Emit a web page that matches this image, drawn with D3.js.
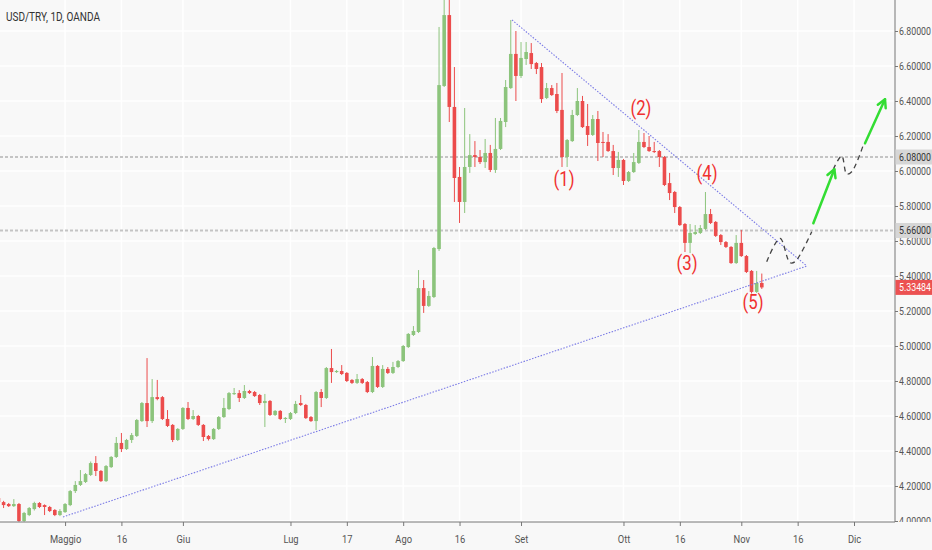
<!DOCTYPE html>
<html>
<head>
<meta charset="utf-8">
<script src="https://cdn.jsdelivr.net/npm/d3@7"></script>
<style>
  body { margin: 0; background: #f8f8f8; }
  svg { display: block; }
  text { font-family: Roboto, "Noto Sans", sans-serif; }
</style>
</head>
<body>
<div id="chart"></div>
<script>
// Daily candles USD/TRY, bar 0 = 1 May 2018 (weekdays only)
const firstBar = -13;
const opens = [
  4.131, 4.108, 4.097, 4.085, 4.097, 4.000, 4.034, 4.068, 4.103, 4.091, 4.080, 4.063, 4.034,
  4.051, 4.091, 4.171, 4.206, 4.223, 4.263, 4.331, 4.286, 4.228, 4.308, 4.366, 4.446, 4.411,
  4.463, 4.486, 4.571, 4.674, 4.571, 4.708, 4.708, 4.583, 4.549, 4.463, 4.526, 4.646, 4.583,
  4.600, 4.549, 4.486, 4.468, 4.526, 4.594, 4.640, 4.725, 4.731, 4.703, 4.743, 4.737, 4.720,
  4.674, 4.686, 4.606, 4.629, 4.583, 4.583, 4.617, 4.674, 4.663, 4.594, 4.571, 4.737, 4.703,
  4.874, 4.851, 4.857, 4.846, 4.806, 4.789, 4.811, 4.794, 4.737, 4.886, 4.766, 4.869, 4.846,
  4.880, 4.914, 4.994, 5.063, 5.080, 5.331, 5.229, 5.280, 5.554, 6.486, 6.891, 6.366, 5.966,
  5.823, 6.023, 6.091, 6.080, 6.051, 6.103, 6.006, 6.126, 6.280, 6.474, 6.669, 6.543, 6.640,
  6.674, 6.617, 6.594, 6.417, 6.474, 6.440, 6.349, 6.080, 6.171, 6.320, 6.400, 6.257, 6.206,
  6.297, 6.166, 6.166, 6.114, 6.017, 6.063, 5.943, 5.994, 6.046, 6.166, 6.137, 6.114, 6.114,
  6.080, 5.931, 5.880, 5.794, 5.697, 5.589, 5.640, 5.646, 5.669, 5.754, 5.709, 5.634, 5.594,
  5.566, 5.474, 5.589, 5.514, 5.429, 5.309, 5.360
];
const highs = [
  4.140, 4.115, 4.103, 4.125, 4.103, 4.052, 4.080, 4.110, 4.108, 4.095, 4.086, 4.068, 4.068,
  4.103, 4.177, 4.228, 4.291, 4.274, 4.340, 4.371, 4.291, 4.320, 4.371, 4.480, 4.503, 4.469,
  4.503, 4.583, 4.680, 4.931, 4.811, 4.806, 4.714, 4.634, 4.554, 4.531, 4.651, 4.680, 4.634,
  4.606, 4.554, 4.491, 4.531, 4.600, 4.703, 4.737, 4.760, 4.748, 4.777, 4.749, 4.743, 4.726,
  4.726, 4.691, 4.634, 4.634, 4.594, 4.623, 4.686, 4.720, 4.669, 4.600, 4.743, 4.754, 4.880,
  4.983, 4.863, 4.891, 4.851, 4.811, 4.840, 4.817, 4.800, 4.937, 4.891, 4.891, 4.880, 4.909,
  4.920, 5.006, 5.074, 5.114, 5.434, 5.377, 5.314, 5.566, 6.823, 7.200, 6.990, 6.594, 6.023,
  6.360, 6.211, 6.171, 6.120, 6.183, 6.149, 6.303, 6.303, 6.520, 6.863, 6.800, 6.737, 6.737,
  6.731, 6.623, 6.617, 6.503, 6.491, 6.503, 6.560, 6.183, 6.349, 6.474, 6.429, 6.383, 6.320,
  6.343, 6.223, 6.211, 6.149, 6.109, 6.069, 6.000, 6.103, 6.234, 6.217, 6.200, 6.166, 6.120,
  6.086, 5.989, 5.886, 5.800, 5.703, 5.697, 5.691, 5.691, 5.880, 5.783, 5.714, 5.640, 5.600,
  5.571, 5.634, 5.663, 5.520, 5.434, 5.429, 5.414
];
const lows = [
  4.100, 4.074, 4.080, 4.080, 3.995, 3.995, 4.028, 4.060, 4.074, 4.034, 4.051, 4.028, 4.028,
  4.046, 4.085, 4.160, 4.200, 4.217, 4.257, 4.257, 4.223, 4.223, 4.303, 4.360, 4.394, 4.406,
  4.446, 4.480, 4.566, 4.537, 4.560, 4.690, 4.577, 4.537, 4.451, 4.457, 4.520, 4.577, 4.577,
  4.543, 4.457, 4.460, 4.463, 4.520, 4.589, 4.634, 4.720, 4.680, 4.697, 4.726, 4.709, 4.663,
  4.537, 4.600, 4.600, 4.577, 4.560, 4.577, 4.611, 4.657, 4.583, 4.566, 4.520, 4.651, 4.697,
  4.789, 4.846, 4.834, 4.794, 4.783, 4.783, 4.783, 4.731, 4.731, 4.760, 4.760, 4.840, 4.840,
  4.874, 4.909, 4.989, 5.057, 5.074, 5.189, 5.223, 5.274, 5.543, 6.480, 6.280, 5.823, 5.703,
  5.760, 5.989, 6.023, 6.040, 6.017, 5.994, 5.989, 6.120, 6.251, 6.469, 6.400, 6.531, 6.606,
  6.583, 6.554, 6.389, 6.411, 6.429, 6.331, 6.023, 6.023, 6.166, 6.314, 6.246, 6.143, 6.200,
  6.057, 6.080, 6.109, 5.977, 5.966, 5.920, 5.937, 5.989, 6.040, 6.131, 6.109, 6.103, 6.023,
  5.914, 5.834, 5.760, 5.686, 5.537, 5.531, 5.634, 5.640, 5.663, 5.697, 5.623, 5.577, 5.560,
  5.469, 5.469, 5.509, 5.417, 5.300, 5.303, 5.326
];
const closes = [
  4.108, 4.091, 4.085, 4.097, 4.000, 4.046, 4.074, 4.103, 4.080, 4.080, 4.057, 4.034, 4.057,
  4.097, 4.171, 4.206, 4.228, 4.268, 4.331, 4.286, 4.228, 4.314, 4.366, 4.446, 4.411, 4.463,
  4.491, 4.577, 4.674, 4.571, 4.708, 4.697, 4.583, 4.543, 4.463, 4.526, 4.646, 4.583, 4.600,
  4.549, 4.480, 4.468, 4.526, 4.594, 4.646, 4.731, 4.731, 4.703, 4.743, 4.731, 4.714, 4.674,
  4.686, 4.606, 4.629, 4.583, 4.589, 4.617, 4.669, 4.663, 4.588, 4.571, 4.737, 4.703, 4.874,
  4.851, 4.857, 4.840, 4.800, 4.789, 4.811, 4.789, 4.737, 4.886, 4.766, 4.869, 4.846, 4.880,
  4.914, 5.000, 5.069, 5.086, 5.331, 5.229, 5.286, 5.560, 6.491, 6.891, 6.366, 5.960, 5.823,
  6.023, 6.091, 6.080, 6.051, 6.103, 6.006, 6.126, 6.286, 6.480, 6.669, 6.543, 6.646, 6.680,
  6.611, 6.583, 6.411, 6.474, 6.434, 6.343, 6.080, 6.177, 6.320, 6.400, 6.251, 6.206, 6.297,
  6.160, 6.160, 6.114, 6.017, 6.063, 5.943, 5.994, 6.051, 6.166, 6.137, 6.114, 6.109, 6.080,
  5.920, 5.874, 5.794, 5.691, 5.589, 5.646, 5.651, 5.674, 5.754, 5.703, 5.629, 5.594, 5.566,
  5.474, 5.589, 5.514, 5.423, 5.309, 5.360, 5.33484
];

// Axis ticks
const timeTickBars = [0, 11, 23, 44, 55, 66, 77, 89, 109, 120, 132, 143, 154];
const timeTickLabels = ["Maggio", "16", "Giu", "Lug", "17", "Ago", "16", "Set", "Ott", "16", "Nov", "16", "Dic"];
const priceTicks = [4.0, 4.2, 4.4, 4.6, 4.8, 5.0, 5.2, 5.4, 5.6, 5.8, 6.0, 6.2, 6.4, 6.6, 6.8];

// Horizontal levels and last price
const levelPrices = [6.08, 5.66];
const lastPrice = 5.33484;

// Elliott wave labels
const waveLabels = ["(1)", "(2)", "(3)", "(4)", "(5)"];
const waveBars = [97.4, 112.4, 121.4, 125.3, 134.3];
const wavePrices = [5.954, 6.360, 5.474, 5.989, 5.251];

// Triangle trend lines [bar, price]
const lowerTrend = [[-0.4, 4.023], [144.8, 5.457]];
const upperTrend = [[87.24, 6.863], [144.8, 5.457]];

// Projected path (dashed) and arrows
const projection1 = [[136.96, 5.482], [139.56, 5.615], [141.51, 5.476], [142.49, 5.482], [145.74, 5.653]];
const projection2 = [[149.96, 6.010], [151.6, 6.086], [152.57, 5.983], [153.55, 5.996], [155.82, 6.149]];
const arrows = [
  [[146.06, 5.701], [150.16, 6.010]],
  [[156.15, 6.158], [160.05, 6.410]]
];

const [w, h] = [932, 550];
const axisX = 895;
const axisY = 522;
const labelScale = 0.8;

const green = "#8cc47c";
const red = "#ec4c4c";

const xScale = d3.scaleLinear()
  .domain([-12.7, 162])
  .range([0, axisX]);

const yScale = d3.scaleLinear()
  .domain([4.0, 6.8])
  .range([521, 31]);

const svg = d3.select("#chart")
  .append("svg")
  .attr("width", w)
  .attr("height", h);

svg.append("rect")
  .attr("width", w)
  .attr("height", h)
  .attr("fill", "#f8f8f8");

svg.append("defs")
  .append("clipPath")
  .attr("id", "plot-clip")
  .append("rect")
  .attr("width", axisX)
  .attr("height", axisY);

// Grid
const grid = svg.append("g").attr("clip-path", "url(#plot-clip)");
grid.selectAll(".hgrid")
  .data(priceTicks)
  .enter()
  .append("line")
  .attr("x1", 0)
  .attr("x2", axisX)
  .attr("y1", (d) => yScale(d))
  .attr("y2", (d) => yScale(d))
  .attr("stroke", "#ffffff")
  .attr("stroke-width", 1.5);
grid.selectAll(".vgrid")
  .data(timeTickBars)
  .enter()
  .append("line")
  .attr("x1", (d) => xScale(d))
  .attr("x2", (d) => xScale(d))
  .attr("y1", 0)
  .attr("y2", axisY)
  .attr("stroke", "#ffffff")
  .attr("stroke-width", 1.5);

const plot = svg.append("g").attr("clip-path", "url(#plot-clip)");

// Levels
plot.selectAll(".level")
  .data(levelPrices)
  .enter()
  .append("line")
  .attr("x1", 0)
  .attr("x2", axisX)
  .attr("y1", (d) => yScale(d))
  .attr("y2", (d) => yScale(d))
  .attr("stroke", "#c4c4c4")
  .attr("stroke-width", 2)
  .attr("stroke-dasharray", "3,2");

// Candles
const bars = d3.range(opens.length).map((k) => ({
  i: firstBar + k,
  o: opens[k],
  h: highs[k],
  l: lows[k],
  c: closes[k]
}));
const bodyW = 3.6;

const candle = plot.selectAll(".candle")
  .data(bars)
  .enter()
  .append("g")
  .attr("class", "candle");

candle.append("line")
  .attr("x1", (d) => xScale(d.i))
  .attr("x2", (d) => xScale(d.i))
  .attr("y1", (d) => yScale(d.h))
  .attr("y2", (d) => yScale(d.l))
  .attr("stroke", (d) => d.c >= d.o ? green : red)
  .attr("stroke-width", 1);

candle.append("rect")
  .attr("x", (d) => xScale(d.i) - bodyW / 2)
  .attr("y", (d) => yScale(Math.max(d.o, d.c)))
  .attr("width", bodyW)
  .attr("height", (d) => Math.max(1, Math.abs(yScale(d.o) - yScale(d.c))))
  .attr("fill", (d) => d.c >= d.o ? green : red);

// Trend lines
const line = d3.line()
  .x((d) => xScale(d[0]))
  .y((d) => yScale(d[1]));

[lowerTrend, upperTrend].forEach((t) => {
  plot.append("path")
    .attr("d", line(t))
    .attr("fill", "none")
    .attr("stroke", "#7b7be6")
    .attr("stroke-width", 1.1)
    .attr("stroke-dasharray", "1.5,1.5");
});

// Projection
const curve = d3.line()
  .x((d) => xScale(d[0]))
  .y((d) => yScale(d[1]))
  .curve(d3.curveCatmullRom);

[projection1, projection2].forEach((p) => {
  plot.append("path")
    .attr("d", curve(p))
    .attr("fill", "none")
    .attr("stroke", "#444")
    .attr("stroke-width", 1.3)
    .attr("stroke-dasharray", "5,4");
});

arrows.forEach((a) => {
  const [x1, y1] = [xScale(a[0][0]), yScale(a[0][1])];
  const [x2, y2] = [xScale(a[1][0]), yScale(a[1][1])];
  const ang = Math.atan2(y2 - y1, x2 - x1);
  const len = 9;
  const head = [
    [x2 - len * Math.cos(ang - 0.5), y2 - len * Math.sin(ang - 0.5)],
    [x2, y2],
    [x2 - len * Math.cos(ang + 0.5), y2 - len * Math.sin(ang + 0.5)]
  ];
  plot.append("line")
    .attr("x1", x1).attr("y1", y1)
    .attr("x2", x2).attr("y2", y2)
    .attr("stroke", "#33dd33")
    .attr("stroke-width", 2.5)
    .attr("stroke-linecap", "round");
  plot.append("path")
    .attr("d", d3.line()(head))
    .attr("fill", "none")
    .attr("stroke", "#33dd33")
    .attr("stroke-width", 2.5)
    .attr("stroke-linecap", "round")
    .attr("stroke-linejoin", "round");
});

// Wave labels
plot.selectAll(".wave")
  .data(waveLabels)
  .enter()
  .append("text")
  .attr("x", (d, k) => xScale(waveBars[k]))
  .attr("y", (d, k) => yScale(wavePrices[k]))
  .attr("dy", "0.35em")
  .attr("text-anchor", "middle")
  .attr("font-size", 20)
  .attr("textLength", 21)
  .attr("lengthAdjust", "spacingAndGlyphs")
  .attr("fill", "#f03030")
  .text((d) => d);

// Price axis
const yAxis = d3.axisRight(yScale)
  .tickValues(priceTicks)
  .tickSize(3)
  .tickPadding(2)
  .tickFormat(d3.format(".5f"));

const yAxisG = svg.append("g")
  .attr("transform", `translate(${axisX}, 0)`)
  .call(yAxis);
yAxisG.select(".domain").remove();
yAxisG.selectAll("line").attr("stroke", "#777");
yAxisG.selectAll("text")
  .attr("x", 4 / labelScale)
  .attr("fill", "#555")
  .attr("font-size", 11)
  .attr("transform", `scale(${labelScale},1)`);

// Area under the time axis hides the lower half of the 4.00000 label
svg.append("rect")
  .attr("x", axisX)
  .attr("y", axisY)
  .attr("width", w - axisX)
  .attr("height", h - axisY)
  .attr("fill", "#f8f8f8");

// Time axis
const xAxis = d3.axisBottom(xScale)
  .tickValues(timeTickBars)
  .tickSize(4)
  .tickPadding(9)
  .tickFormat((d, k) => timeTickLabels[k]);

const xAxisG = svg.append("g")
  .attr("transform", `translate(0, ${axisY})`)
  .call(xAxis);
xAxisG.select(".domain").remove();
xAxisG.selectAll("line").attr("stroke", "#777");
xAxisG.selectAll("text")
  .attr("fill", "#555")
  .attr("font-size", 11)
  .attr("transform", "scale(0.85,1)");

svg.append("line")
  .attr("x1", 0).attr("x2", axisX)
  .attr("y1", axisY).attr("y2", axisY)
  .attr("stroke", "#777");
svg.append("line")
  .attr("x1", axisX).attr("x2", axisX)
  .attr("y1", 0).attr("y2", axisY)
  .attr("stroke", "#777");

// Axis price boxes
const boxes = levelPrices.map((p) => ({ p: p, fill: "#d6d6d6", color: "#333" }))
  .concat([{ p: lastPrice, fill: "#ec5252", color: "#fff" }]);

const box = svg.selectAll(".pricebox")
  .data(boxes)
  .enter()
  .append("g")
  .attr("transform", (d) => `translate(${axisX}, ${yScale(d.p)})`);
box.append("rect")
  .attr("x", 0.5)
  .attr("y", -7.5)
  .attr("width", w - axisX)
  .attr("height", 15)
  .attr("fill", (d) => d.fill);
box.append("text")
  .attr("x", 4 / labelScale)
  .attr("dy", "0.35em")
  .attr("font-size", 11)
  .attr("transform", `scale(${labelScale},1)`)
  .attr("fill", (d) => d.color)
  .text((d) => d3.format(".5f")(d.p));

// Title
svg.append("text")
  .attr("x", 6)
  .attr("y", 21)
  .attr("font-size", 12.5)
  .attr("textLength", 94)
  .attr("lengthAdjust", "spacingAndGlyphs")
  .attr("fill", "#333")
  .text("USD/TRY, 1D, OANDA");
</script>
</body>
</html>
